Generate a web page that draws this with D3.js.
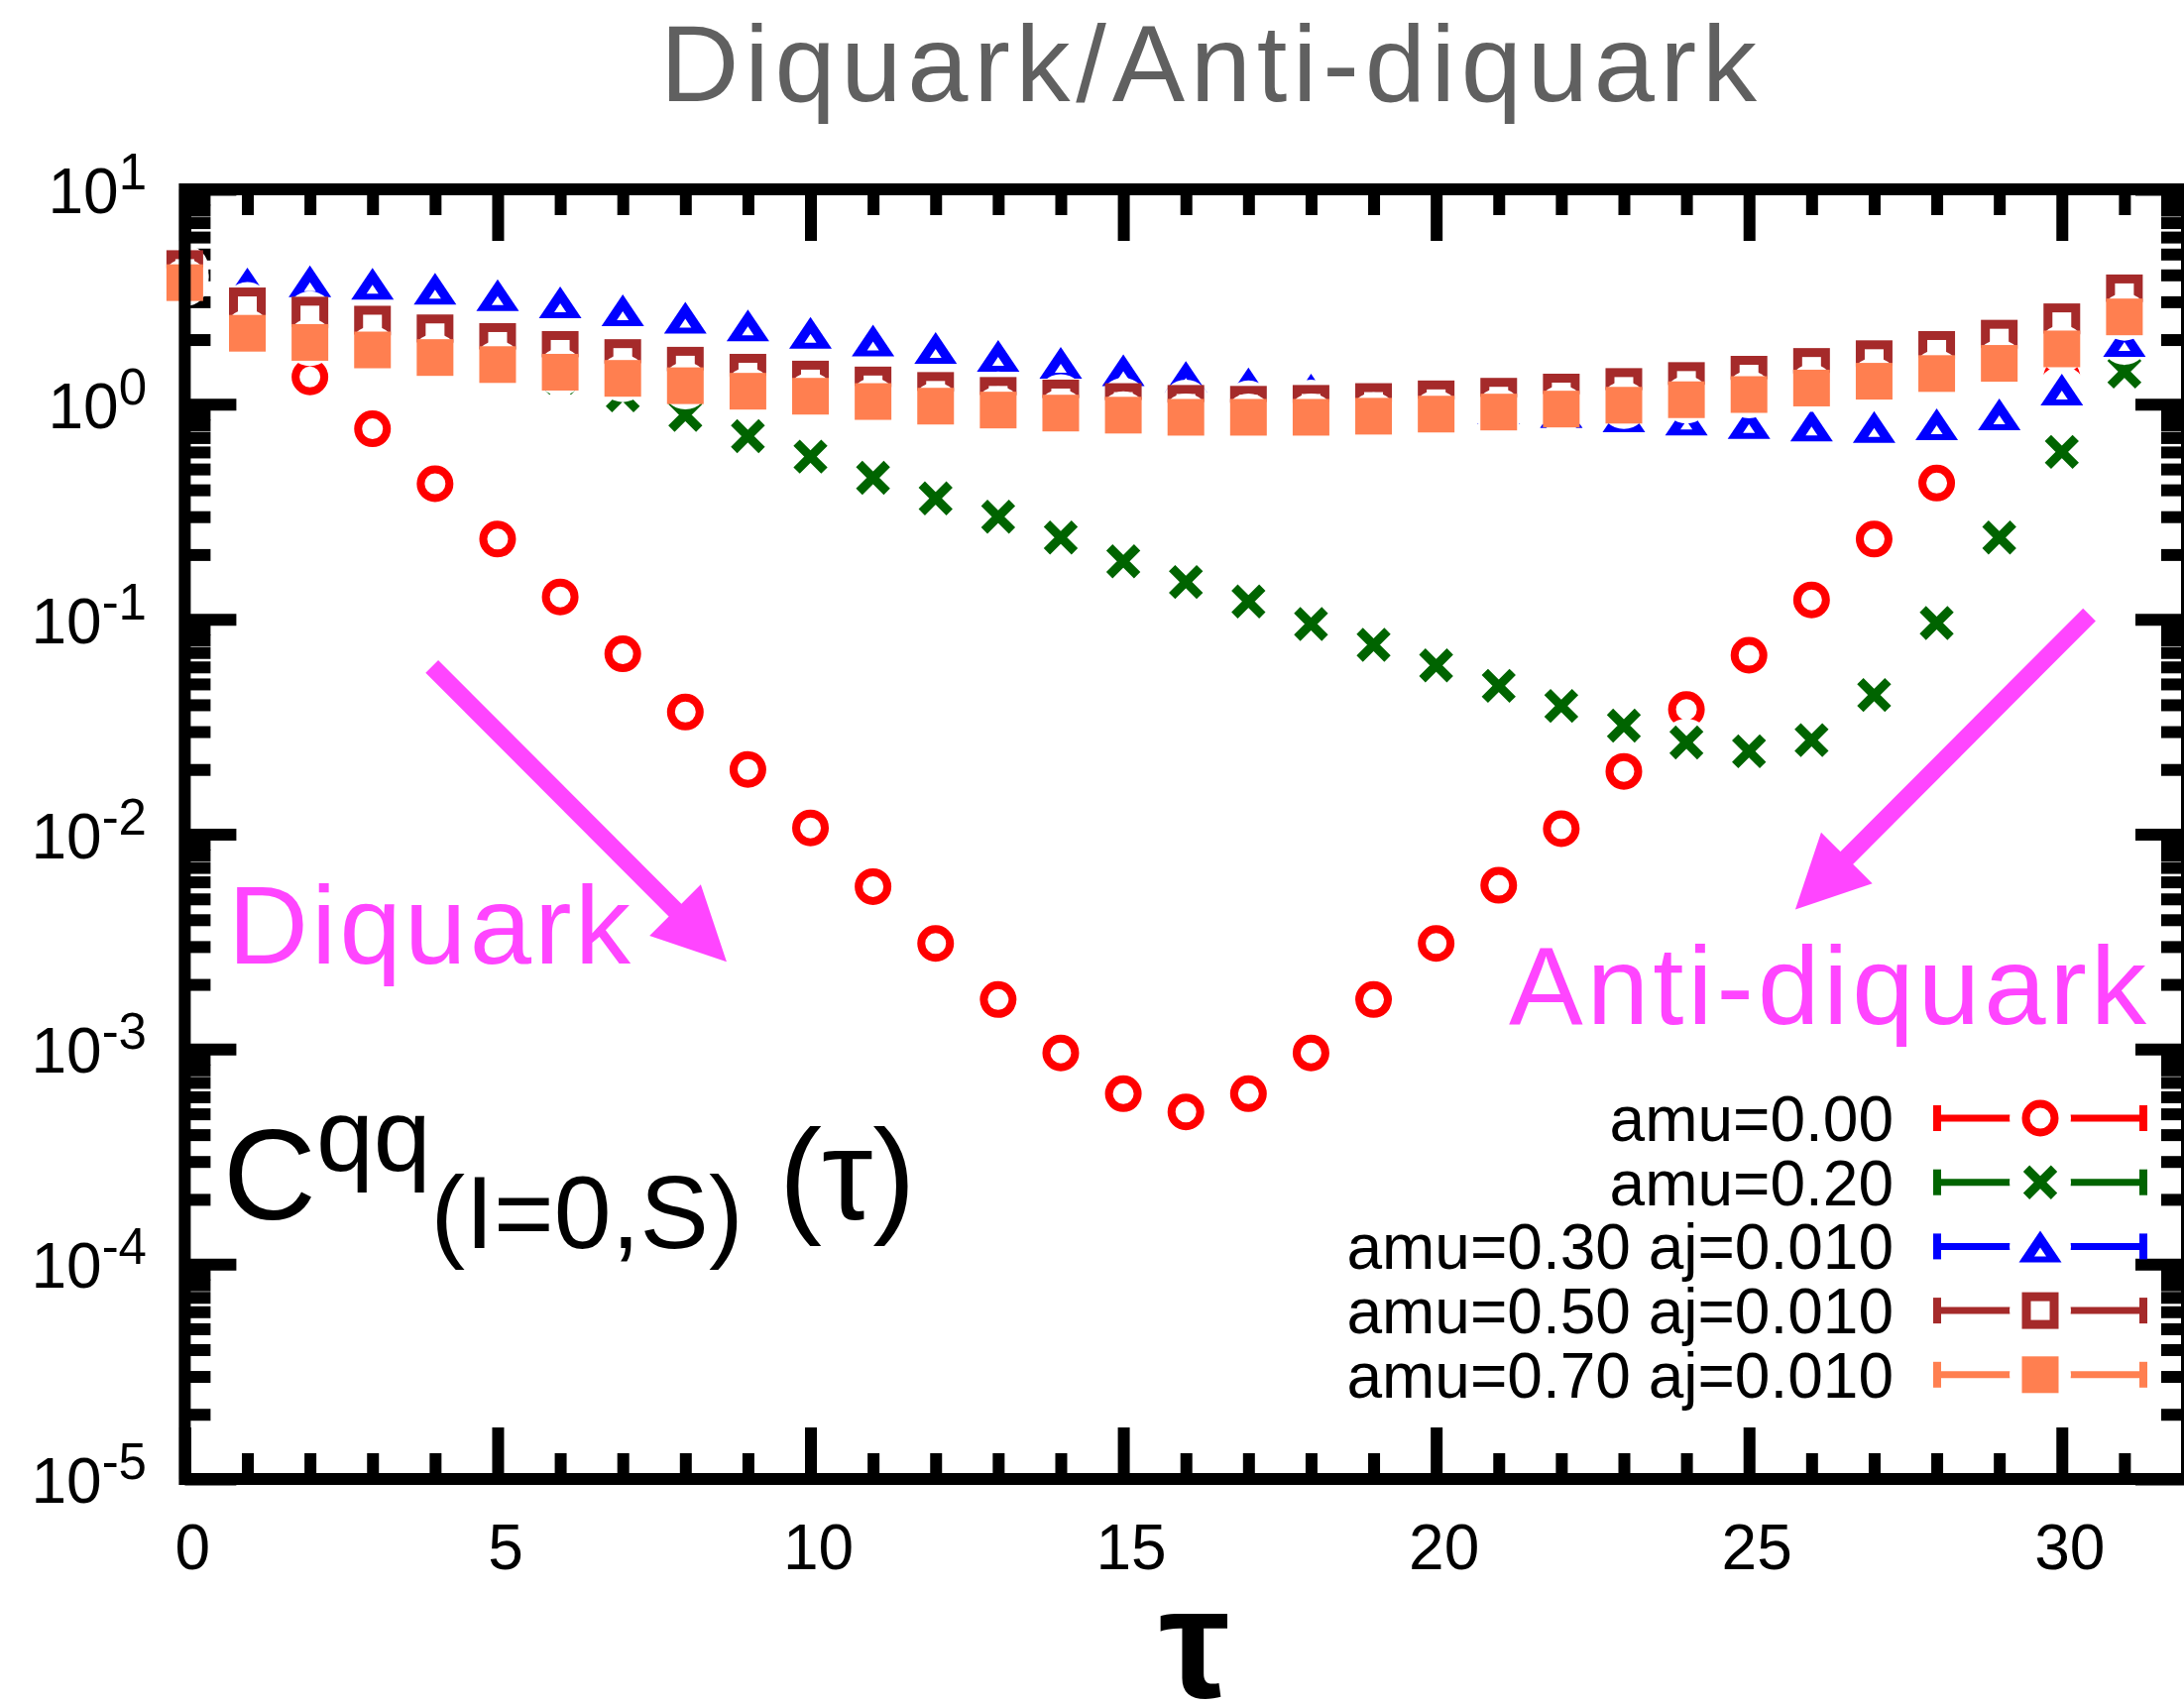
<!DOCTYPE html>
<html>
<head>
<meta charset="utf-8">
<script src="https://cdn.jsdelivr.net/npm/d3@7"></script>
<style>
  html, body { margin: 0; padding: 0; background: #ffffff; }
  svg { display: block; font-family: "Liberation Sans", Arial, Helvetica, sans-serif; }
</style>
</head>
<body>
<svg id="chart" width="2203" height="1720"></svg>
<script>
// ---- data ---------------------------------------------------------------
const tau = [0, 1, 2, 3, 4, 5, 6, 7, 8, 9, 10, 11, 12, 13, 14, 15,
             16, 17, 18, 19, 20, 21, 22, 23, 24, 25, 26, 27, 28, 29, 30, 31];

const amu000 = [4.0, 2.4, 1.34, 0.769, 0.427, 0.236, 0.127, 0.069, 0.037, 0.0200, 0.0107, 0.0057,
                0.0031, 0.0017, 0.00096, 0.00062, 0.00051, 0.00062, 0.00096, 0.0017, 0.0031, 0.00578,
                0.0106, 0.0196, 0.038, 0.068, 0.123, 0.236, 0.43, 0.9, 1.34, 2.4];
const amu020 = [3.9, 2.5, 2.1, 1.85, 1.65, 1.48, 1.33, 1.10, 0.893, 0.711, 0.571, 0.455,
                0.365, 0.30, 0.24, 0.186, 0.149, 0.121, 0.095, 0.076, 0.061, 0.049,
                0.0395, 0.032, 0.0267, 0.0243, 0.0274, 0.0444, 0.096, 0.24, 0.60, 1.42];
const amu030 = [3.9, 3.65, 3.73, 3.64, 3.45, 3.22, 2.98, 2.74, 2.53, 2.33, 2.15, 1.98,
                1.83, 1.68, 1.56, 1.44, 1.34, 1.25, 1.17, 1.09, 1.02, 0.96,
                0.92, 0.879, 0.848, 0.818, 0.796, 0.784, 0.807, 0.898, 1.17, 1.97];
const amu050 = [4.28, 2.87, 2.60, 2.36, 2.15, 1.96, 1.80, 1.65, 1.52, 1.41, 1.31, 1.23,
                1.16, 1.10, 1.07, 1.03, 1.01, 1.00, 1.01, 1.03, 1.06, 1.09,
                1.14, 1.21, 1.29, 1.38, 1.50, 1.63, 1.80, 2.03, 2.42, 3.30];
const amu070 = [3.68, 2.14, 1.94, 1.79, 1.65, 1.53, 1.41, 1.32, 1.22, 1.15, 1.09, 1.03,
                0.98, 0.94, 0.91, 0.89, 0.87, 0.87, 0.87, 0.88, 0.90, 0.92,
                0.95, 0.99, 1.05, 1.11, 1.19, 1.28, 1.39, 1.55, 1.81, 2.55];

const seriesLabels = ["amu=0.00", "amu=0.20", "amu=0.30 aj=0.010", "amu=0.50 aj=0.010", "amu=0.70 aj=0.010"];
const seriesColors = ["#ff0000", "#006400", "#0000ff", "#a52a2a", "#ff7f50"];
const seriesMarkers = ["circle", "cross", "triangle", "square", "filledSquare"];
const seriesValues = [amu000, amu020, amu030, amu050, amu070];

const xMajorTicks = [0, 5, 10, 15, 20, 25, 30];
const yMajorExponents = [1, 0, -1, -2, -3, -4, -5];

// arrows in data coordinates: [tau, C]
const arrowDiquark = { from: [3.95, 0.0603], to: [8.66, 0.00255] };
const arrowAnti    = { from: [30.44, 0.105], to: [25.74, 0.00446] };

// ---- layout -------------------------------------------------------------
const svg = d3.select("#chart");
const X0 = 186.4, X1 = 2206, Y0 = 1492, Y1 = 191;
const x = d3.scaleLinear().domain([0, 32]).range([X0, X1]);
const y = d3.scaleLog().domain([1e-5, 10]).range([Y0, Y1]);

const MAJOR = 52, MINOR = 26, TICKW = 12;
const xMinorTicks = tau.filter(t => t % 5 !== 0);
const yMajorTicks = yMajorExponents.map(e => Math.pow(10, e));
const yMinorTicks = [];
[-5, -4, -3, -2, -1, 0].forEach(e => {
  [2, 3, 4, 5, 6, 7, 8, 9].forEach(k => yMinorTicks.push(k * Math.pow(10, e)));
});

// ---- inward ticks on all four sides ------------------------------------
function tickLayer(axis, tx, ty) {
  const g = svg.append("g").attr("transform", `translate(${tx},${ty})`).call(axis);
  g.select(".domain").remove();
  g.selectAll(".tick line").attr("stroke", "#000").attr("stroke-width", TICKW);
  g.selectAll(".tick text").remove();
  return g;
}
[[xMajorTicks, MAJOR], [xMinorTicks, MINOR]].forEach(([vals, len]) => {
  tickLayer(d3.axisBottom(x).tickValues(vals).tickSize(-len).tickFormat(""), 0, Y0);
  tickLayer(d3.axisTop(x).tickValues(vals).tickSize(-len).tickFormat(""), 0, Y1);
});
[[yMajorTicks, MAJOR], [yMinorTicks, MINOR]].forEach(([vals, len]) => {
  tickLayer(d3.axisLeft(y).tickValues(vals).tickSize(-len).tickFormat(""), X0, 0);
  tickLayer(d3.axisRight(y).tickValues(vals).tickSize(-len).tickFormat(""), X1, 0);
});

// ---- tick labels --------------------------------------------------------
svg.append("g").selectAll("text").data(xMajorTicks).join("text")
  .attr("x", d => x(d) + 8).attr("y", 1583)
  .attr("text-anchor", "middle").attr("font-size", 64).attr("fill", "#000")
  .text(d => d);

const yLab = svg.append("g").selectAll("text").data(yMajorExponents).join("text")
  .attr("x", 148).attr("y", d => y(Math.pow(10, d)) + 24)
  .attr("text-anchor", "end").attr("font-size", 64).attr("fill", "#000");
yLab.append("tspan").text("10");
yLab.append("tspan").attr("font-size", 51).attr("dy", -24).text(d => d);

// ---- markers ------------------------------------------------------------
function drawMarker(g, type, color) {
  if (type === "circle") {
    g.append("circle").attr("r", 14.5).attr("fill", "none").attr("stroke", color).attr("stroke-width", 8);
  } else if (type === "cross") {
    g.append("path").attr("d", "M-14,-14L14,14M-14,14L14,-14")
      .attr("fill", "none").attr("stroke", color).attr("stroke-width", 9);
  } else if (type === "triangle") {
    g.append("path").attr("d", "M0,-16L21.5,16L-21.5,16Z").attr("fill", color);
    g.append("path").attr("d", "M0,1L6,10L-6,10Z").attr("fill", "#fff");
  } else if (type === "square") {
    g.append("rect").attr("x", -14).attr("y", -14).attr("width", 28).attr("height", 28)
      .attr("fill", "none").attr("stroke", color).attr("stroke-width", 9);
  } else if (type === "filledSquare") {
    g.append("rect").attr("x", -18.5).attr("y", -18.5).attr("width", 37).attr("height", 37)
      .attr("fill", color);
  }
}

// data points: each point sits on a white disc that masks what lies beneath
const HALO = 24;
const pointLayer = svg.append("g");
seriesValues.forEach((vals, si) => {
  const g = pointLayer.append("g");
  vals.forEach((v, i) => {
    const p = g.append("g").attr("transform", `translate(${x(tau[i])},${y(v)})`);
    p.append("circle").attr("r", HALO).attr("fill", "#fff");
    drawMarker(p, seriesMarkers[si], seriesColors[si]);
  });
});

// ---- frame --------------------------------------------------------------
svg.append("rect").attr("x", X0).attr("y", Y1).attr("width", X1 - X0).attr("height", Y0 - Y1)
  .attr("fill", "none").attr("stroke", "#000").attr("stroke-width", TICKW);

// ---- title and axis label -----------------------------------------------
svg.append("text").attr("x", 666).attr("y", 102).attr("font-size", 110).attr("fill", "#606060")
  .attr("textLength", 1106).attr("lengthAdjust", "spacing")
  .text("Diquark/Anti-diquark");

svg.append("text").attr("x", 1205).attr("y", 1712).attr("text-anchor", "middle")
  .attr("font-size", 160).attr("font-weight", "bold").attr("fill", "#000").text("τ");

// correlator label
const cl = svg.append("text").attr("x", 225).attr("y", 1230).attr("font-size", 130).attr("fill", "#000");
cl.append("tspan").text("C");
cl.append("tspan").attr("font-size", 104).attr("dy", -49).text("qq");
cl.append("tspan").attr("font-size", 104).attr("dy", 78).text("(I=0,S)");
cl.append("tspan").attr("font-size", 130).attr("dy", -29).text("\u00a0(τ)");

// ---- annotations --------------------------------------------------------
const PINK = "#ff45ff";
function arrow(a) {
  const p0 = [x(a.from[0]), y(a.from[1])], p1 = [x(a.to[0]), y(a.to[1])];
  const dx = p1[0] - p0[0], dy = p1[1] - p0[1], L = Math.hypot(dx, dy);
  const ux = dx / L, uy = dy / L, HL = 73.5, HW = 36.5;
  const b = [p1[0] - ux * HL, p1[1] - uy * HL];
  svg.append("line").attr("x1", p0[0]).attr("y1", p0[1]).attr("x2", b[0] + ux * 2).attr("y2", b[1] + uy * 2)
    .attr("stroke", PINK).attr("stroke-width", 18);
  svg.append("path")
    .attr("d", `M${p1[0]},${p1[1]}L${b[0] - uy * HW},${b[1] + ux * HW}L${b[0] + uy * HW},${b[1] - ux * HW}Z`)
    .attr("fill", PINK);
}
arrow(arrowDiquark);
arrow(arrowAnti);

svg.append("text").attr("x", 230).attr("y", 972).attr("font-size", 112).attr("fill", PINK)
  .attr("textLength", 406).attr("lengthAdjust", "spacing").text("Diquark");
svg.append("text").attr("x", 1522).attr("y", 1033).attr("font-size", 112).attr("fill", PINK)
  .attr("textLength", 643).attr("lengthAdjust", "spacing").text("Anti-diquark");

// ---- legend -------------------------------------------------------------
const LY0 = 1128, LDY = 64.7, LTX = 1910, LS0 = 1950, LS1 = 2166, LM = 2058;
const legend = svg.append("g");
seriesLabels.forEach((lab, i) => {
  const cy = LY0 + i * LDY, c = seriesColors[i];
  legend.append("text").attr("x", LTX).attr("y", cy + 23).attr("text-anchor", "end")
    .attr("font-size", 64).attr("fill", "#000").text(lab);
  legend.append("line").attr("x1", LS0).attr("x2", LS1).attr("y1", cy).attr("y2", cy)
    .attr("stroke", c).attr("stroke-width", 7);
  legend.append("rect").attr("x", LS0).attr("y", cy - 13).attr("width", 8).attr("height", 26).attr("fill", c);
  legend.append("rect").attr("x", LS1 - 8).attr("y", cy - 13).attr("width", 8).attr("height", 26).attr("fill", c);
  const m = legend.append("g").attr("transform", `translate(${LM},${cy})`);
  m.append("circle").attr("r", 31).attr("fill", "#fff");
  drawMarker(m, seriesMarkers[i], c);
});
</script>
</body>
</html>
